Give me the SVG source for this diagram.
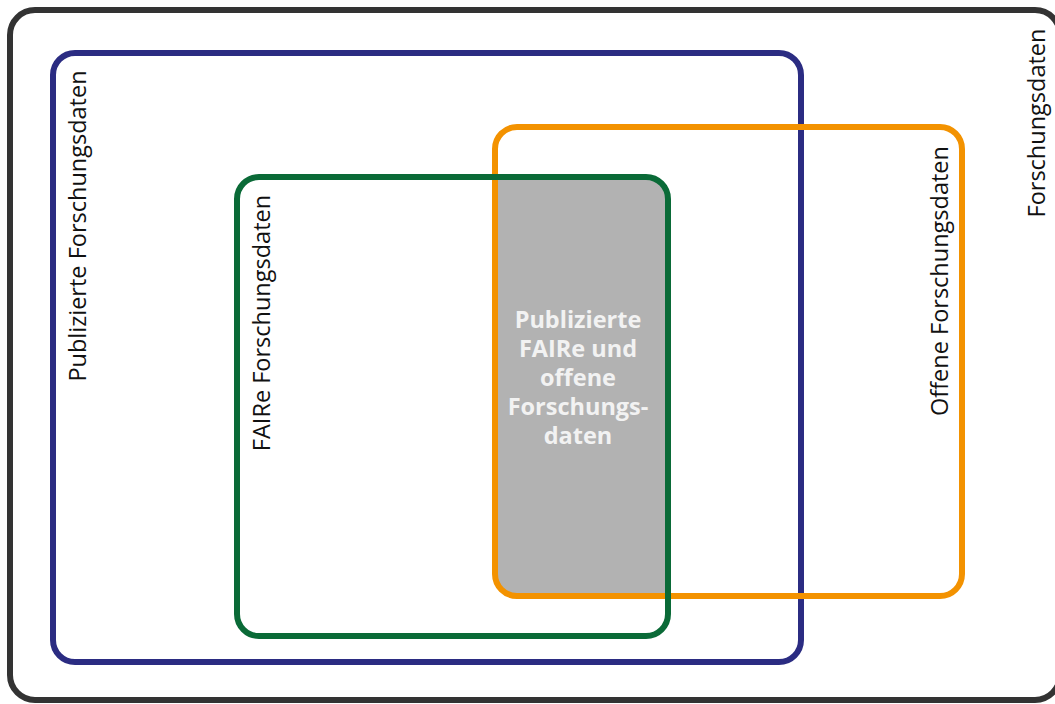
<svg xmlns="http://www.w3.org/2000/svg" width="1055" height="704" viewBox="0 0 1055 704">
<style>
.box{fill:none;stroke-width:6}
.lbl{font-family:"Open Sans","Noto Sans",sans-serif;font-size:23.5px;fill:#111;text-anchor:middle}
.ctr{font-family:"Open Sans","Noto Sans",sans-serif;font-size:23.5px;font-weight:bold;fill:#f2f2f2;text-anchor:middle}
</style>
<rect width="1055" height="704" fill="#fff"/>
<g id="intersection">
<path d="M495,177 H648 A20,20 0 0 1 668,197 V596 H515 A20,20 0 0 1 495,576 Z" fill="#b2b2b2"/>
<text class="ctr"><tspan x="578" y="328">Publizierte</tspan><tspan x="578" y="357">FAIRe und</tspan><tspan x="578" y="386">offene</tspan><tspan x="578" y="415">Forschungs-</tspan><tspan x="578" y="444">daten</tspan></text>
</g>
<g id="forschungsdaten">
<rect class="box" x="10" y="10" width="1050" height="690" rx="25" stroke="#333"/>
<text class="lbl" transform="translate(1045,123) rotate(-90)">Forschungsdaten</text>
</g>
<g id="publizierte">
<rect class="box" x="53" y="53" width="748" height="609" rx="22" stroke="#2b2c82"/>
<text class="lbl" transform="translate(86,226) rotate(-90)">Publizierte Forschungsdaten</text>
</g>
<g id="offene">
<rect class="box" x="495" y="127" width="467" height="469" rx="22" stroke="#f39200"/>
<text class="lbl" transform="translate(948,281) rotate(-90)">Offene Forschungsdaten</text>
</g>
<g id="faire">
<rect class="box" x="237" y="177" width="431" height="459" rx="22" stroke="#0a6a37"/>
<text class="lbl" transform="translate(270,323) rotate(-90)">FAIRe Forschungsdaten</text>
</g>
<g id="connectors"></g>
</svg>
